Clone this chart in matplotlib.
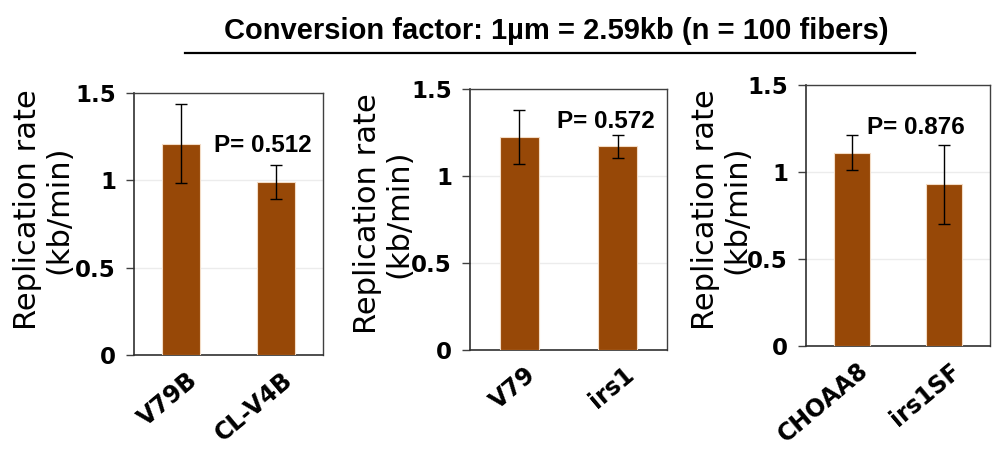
import matplotlib.pyplot as plt
import matplotlib.transforms as mtransforms
import numpy as np

# data
labels1 = ['V79B', 'CL-V4B']
rate1 = [1.21, 0.99]
err1 = [0.225, 0.097]
p1 = 'P= 0.512'

labels2 = ['V79', 'irs1']
rate2 = [1.225, 1.17]
err2 = [0.157, 0.068]
p2 = 'P= 0.572'

labels3 = ['CHOAA8', 'irs1SF']
rate3 = [1.11, 0.93]
err3 = [0.10, 0.228]
p3 = 'P= 0.876'

yticks = [0, 0.5, 1, 1.5]
yticklabels = ['0', '0.5', '1', '1.5']

bar_color = '#974807'
W, H = 996, 451

fig = plt.figure(figsize=(W / 100, H / 100), dpi=100)
shift = mtransforms.ScaledTranslation(21 / 100, 0, fig.dpi_scale_trans)


def px_axes(left, top, right, bottom):
    # pixel box -> figure fraction
    return [left / W, 1 - bottom / H, (right - left) / W, (bottom - top) / H]


def panel(box, labels, rates, errs, ptext, pxy, ylab_xy):
    ax = fig.add_axes(px_axes(*box))
    x = np.arange(len(labels))
    ax.bar(x, rates, 0.4, color=bar_color, edgecolor='#f3dcc6', linewidth=0.8, zorder=3)
    ax.errorbar(x, rates, yerr=errs, fmt='none', ecolor='black', elinewidth=1,
                capsize=4, capthick=1, zorder=4)
    ax.set_xlim(-0.5, 1.5)
    ax.set_ylim(0, 1.5)
    ax.set_yticks(yticks, yticklabels)
    ax.set_xticks(x, labels)
    ax.grid(axis='y', color='#ececec', linewidth=1, zorder=0)
    ax.tick_params(axis='y', length=6, width=1, color='#404040', pad=7)
    ax.tick_params(axis='x', length=0, pad=9)
    for t in ax.get_yticklabels():
        t.set_fontfamily('DejaVu Sans')
        t.set_fontweight('bold')
        t.set_fontsize(16.5)
    for t in ax.get_xticklabels():
        t.set_fontfamily('DejaVu Sans')
        t.set_fontweight('bold')
        t.set_fontsize(17)
        t.set_rotation(40)
        t.set_ha('right')
        t.set_va('top')
        t.set_transform(t.get_transform() + shift)
    for s in ['left', 'bottom']:
        ax.spines[s].set_color('#303030')
        ax.spines[s].set_linewidth(1.2)
    for s in ['top', 'right']:
        ax.spines[s].set_color('#404040')
        ax.spines[s].set_linewidth(1)
    fig.text(pxy[0] / W, 1 - pxy[1] / H, ptext, fontsize=17.5, fontweight='bold',
             family='Liberation Sans', ha='center', va='center')
    fig.text(ylab_xy[0] / W, 1 - ylab_xy[1] / H, 'Replication rate\n(kb/min)',
             fontsize=22, family='DejaVu Sans', rotation=90, ha='center', va='center',
             multialignment='center', linespacing=1.1)
    return ax


panel((134, 93, 323, 355), labels1, rate1, err1, p1, (263, 146), (43, 210))
panel((470, 89, 667, 350), labels2, rate2, err2, p2, (606, 122), (383, 214))
panel((806, 85, 990, 346), labels3, rate3, err3, p3, (916, 127), (721, 210))

fig.text(556 / W, 1 - 31 / H, 'Conversion factor: 1µm = 2.59kb (n = 100 fibers)',
         family=['Liberation Sans Narrow', 'Liberation Sans'], fontweight='bold',
         fontsize=21, ha='center', va='center')
fig.add_artist(plt.Line2D([185 / W, 915 / W], [1 - 53 / H, 1 - 53 / H],
                          color='black', linewidth=1.6))

plt.savefig('out.png', dpi=100)
